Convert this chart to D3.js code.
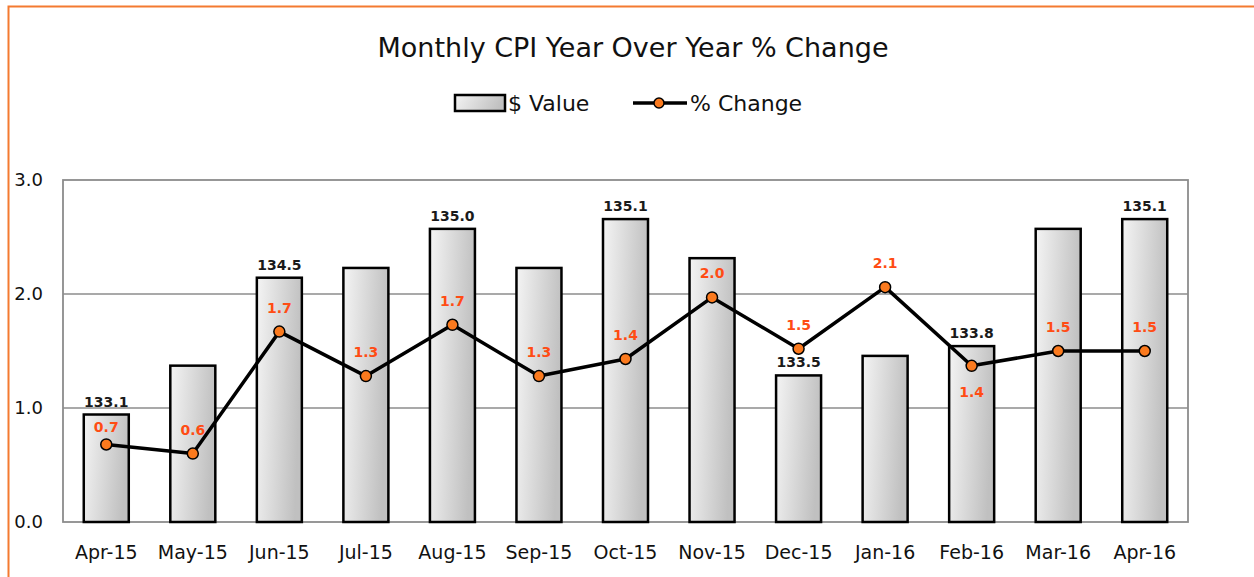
<!DOCTYPE html>
<html>
<head>
<meta charset="utf-8">
<title>Monthly CPI</title>
<script src="https://d3js.org/d3.v7.min.js"></script>
<style>
  body { margin: 0; background: #fff; overflow: hidden; }
  svg { display: block; font-family: "DejaVu Sans", Verdana, sans-serif; }
</style>
</head>
<body>
<svg id="chart" width="1254" height="577"></svg>
<script>
// data
const months = ['Apr-15','May-15','Jun-15','Jul-15','Aug-15','Sep-15','Oct-15','Nov-15','Dec-15','Jan-16','Feb-16','Mar-16','Apr-16']
const cpiValue = [133.1, 133.6, 134.5, 134.6, 135.0, 134.6, 135.1, 134.7, 133.5, 133.7, 133.8, 135.0, 135.1]
const pctChange = [0.68, 0.60, 1.67, 1.28, 1.73, 1.28, 1.43, 1.97, 1.52, 2.06, 1.37, 1.50, 1.50]
const yTicks = [0, 1, 2, 3]
const valueLabelMonths = ['Apr-15','Jun-15','Aug-15','Oct-15','Dec-15','Feb-16','Apr-16']
const pctBelowMonths = ['Feb-16']

const svg = d3.select('#chart')
const m = { left: 63, right: 1188, top: 180, bottom: 522 }
const font = '"DejaVu Sans", Verdana, sans-serif'

// orange outer border (cropped on right/bottom like the screenshot)
svg.append('rect')
  .attr('x', 8.5).attr('y', 6.5)
  .attr('width', 1260).attr('height', 600)
  .attr('fill', 'none').attr('stroke', '#f47a30').attr('stroke-width', 2)

const defs = svg.append('defs')
const grad = defs.append('linearGradient').attr('id', 'barGrad')
  .attr('x1', '0%').attr('y1', '0%').attr('x2', '100%').attr('y2', '20%')
grad.append('stop').attr('offset', '0%').attr('stop-color', '#f4f4f4')
grad.append('stop').attr('offset', '100%').attr('stop-color', '#c0c0c0')

const x = d3.scaleBand().domain(months).range([m.left, m.right]).paddingInner(0.48).paddingOuter(0.24)
const y = d3.scaleLinear().domain([0, 3]).range([m.bottom, m.top])
// hidden secondary axis for the $ value bars
const y2 = d3.scaleLinear().domain([132, 135.5]).range([m.bottom, m.top])

// title
svg.append('text')
  .attr('x', 633).attr('y', 57)
  .attr('text-anchor', 'middle')
  .attr('font-size', 27)
  .attr('fill', '#111')
  .text('Monthly CPI Year Over Year % Change')

// legend
const leg = svg.append('g')
leg.append('rect').attr('x', 455).attr('y', 95).attr('width', 50).attr('height', 16)
  .attr('fill', 'url(#barGrad)').attr('stroke', '#000').attr('stroke-width', 2.5)
leg.append('text').attr('x', 508).attr('y', 111).attr('font-size', 22).attr('fill', '#111').text('$ Value')
leg.append('line').attr('x1', 633).attr('x2', 687).attr('y1', 103).attr('y2', 103)
  .attr('stroke', '#000').attr('stroke-width', 3.5)
leg.append('circle').attr('cx', 659).attr('cy', 103).attr('r', 5)
  .attr('fill', '#fb7a1e').attr('stroke', '#000').attr('stroke-width', 1.5)
leg.append('text').attr('x', 690).attr('y', 111).attr('font-size', 22).attr('fill', '#111').text('% Change')

// gridlines
svg.append('g').selectAll('line')
  .data(yTicks.filter(d => d > 0 && d < 3))
  .join('line')
  .attr('x1', m.left).attr('x2', m.right)
  .attr('y1', d => y(d)).attr('y2', d => y(d))
  .attr('stroke', '#8c8c8c').attr('stroke-width', 1.5)

// plot frame
svg.append('rect')
  .attr('x', m.left).attr('y', m.top)
  .attr('width', m.right - m.left).attr('height', m.bottom - m.top)
  .attr('fill', 'none').attr('stroke', '#8c8c8c').attr('stroke-width', 1.8)

// y axis labels
const yAxis = d3.axisLeft(y).tickValues(yTicks).tickFormat(d3.format('.1f')).tickSize(0).tickPadding(0)
const ya = svg.append('g').attr('transform', `translate(${m.left - 20},0)`).call(yAxis)
ya.select('.domain').remove()
ya.selectAll('text').attr('font-size', 18).attr('fill', '#111').attr('font-family', font)

// x axis labels
const xAxis = d3.axisBottom(x).tickSize(0).tickPadding(0)
const xa = svg.append('g').attr('transform', `translate(0,${m.bottom + 23})`).call(xAxis)
xa.select('.domain').remove()
xa.selectAll('text').attr('font-size', 19).attr('fill', '#111').attr('font-family', font)

// bars
const bars = svg.append('g')
bars.selectAll('rect.shadow')
  .data(months)
  .join('rect').attr('class', 'shadow')
  .attr('x', d => x(d) + 1).attr('y', m.bottom - 2)
  .attr('width', x.bandwidth()).attr('height', 3)
  .attr('fill', '#9a9a9a')
bars.selectAll('rect.bar')
  .data(months)
  .join('rect').attr('class', 'bar')
  .attr('x', d => x(d))
  .attr('y', (d, i) => y2(cpiValue[i]))
  .attr('width', x.bandwidth())
  .attr('height', (d, i) => m.bottom - y2(cpiValue[i]))
  .attr('fill', 'url(#barGrad)')
  .attr('stroke', '#000').attr('stroke-width', 2.5)

svg.append('g').selectAll('text')
  .data(months.map((d, i) => ({ d, v: cpiValue[i] })).filter(o => valueLabelMonths.includes(o.d)))
  .join('text')
  .attr('x', o => x(o.d) + x.bandwidth() / 2)
  .attr('y', o => y2(o.v) - 8)
  .attr('text-anchor', 'middle')
  .attr('font-size', 14).attr('font-weight', 'bold')
  .attr('fill', '#1a1a1a')
  .text(o => o.v.toFixed(1))

// % change line
const cx = d => x(d) + x.bandwidth() / 2
const line = d3.line().x((d, i) => cx(months[i])).y(d => y(d))
svg.append('path')
  .datum(pctChange)
  .attr('d', line)
  .attr('fill', 'none').attr('stroke', '#000').attr('stroke-width', 3.5)
  .attr('stroke-linejoin', 'round')

svg.append('g').selectAll('circle')
  .data(pctChange)
  .join('circle')
  .attr('cx', (d, i) => cx(months[i]))
  .attr('cy', d => y(d))
  .attr('r', 5.5)
  .attr('fill', '#fb7a1e').attr('stroke', '#000').attr('stroke-width', 1.5)

// labels sit above the marker; first one is tucked in under its bar label
svg.append('g').selectAll('text')
  .data(pctChange)
  .join('text')
  .attr('x', (d, i) => cx(months[i]))
  .attr('y', (d, i) => pctBelowMonths.includes(months[i]) ? y(d) + 31 : y(d) - (i === 0 ? 12 : 19))
  .attr('text-anchor', 'middle')
  .attr('font-size', 14).attr('font-weight', 'bold')
  .attr('fill', '#ff4c14')
  .text(d => d.toFixed(1))
</script>
</body>
</html>
